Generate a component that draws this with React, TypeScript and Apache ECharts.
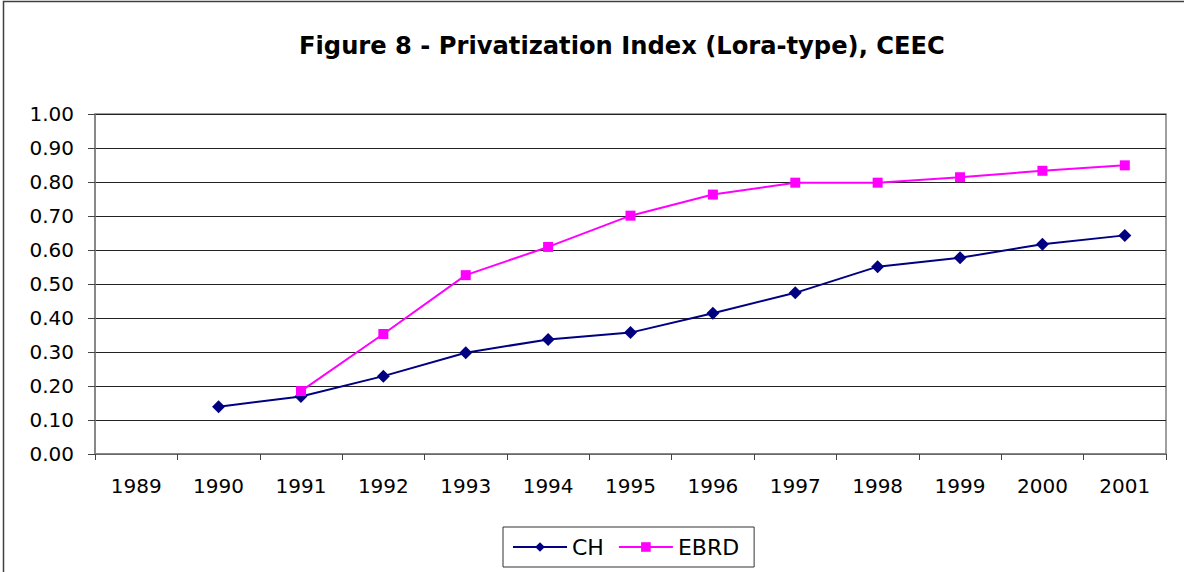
import React, { useEffect, useRef } from "react";
import * as echarts from "echarts";

const years = ["1989", "1990", "1991", "1992", "1993", "1994", "1995", "1996", "1997", "1998", "1999", "2000", "2001"];
const chValues = [null, 0.139, 0.169, 0.229, 0.298, 0.337, 0.357, 0.414, 0.474, 0.551, 0.577, 0.617, 0.643];
const ebrdValues = [null, null, 0.185, 0.353, 0.526, 0.609, 0.701, 0.763, 0.798, 0.798, 0.814, 0.833, 0.849];
const titleText = "Figure 8 - Privatization Index (Lora-type), CEEC";

const FONT = "'DejaVu Sans', sans-serif";

export default function App() {
  const ref = useRef<HTMLDivElement>(null);
  useEffect(() => {
    if (!ref.current) return;
    const chart = echarts.init(ref.current, null, { renderer: "svg" });
    chart.setOption({
      animation: false,
      backgroundColor: "#ffffff",
      title: {
        text: titleText,
        left: 294,
        top: 29,
        textStyle: { fontFamily: FONT, fontSize: 24.2, fontWeight: "bold", color: "#000" },
      },
      graphic: [
        {
          type: "rect",
          shape: { x: 3.5, y: 1.5, width: 1200, height: 600 },
          style: { fill: "none", stroke: "#404040", lineWidth: 1.5 },
          z: 100,
        },
      ],
      grid: {
        left: 95,
        right: 1184 - 1166,
        top: 114,
        bottom: 572 - 454,
        show: true,
        borderColor: "#808080",
        borderWidth: 1.5,
      },
      legend: {
        bottom: 5,
        left: 503,
        itemWidth: 54,
        itemHeight: 12,
        itemGap: 14,
        padding: [9, 15, 9, 9],
        borderColor: "#333",
        borderWidth: 1,
        textStyle: { fontFamily: FONT, fontSize: 22, color: "#000" },
        data: ["CH", "EBRD"],
      },
      xAxis: {
        type: "category",
        data: years,
        boundaryGap: true,
        axisLine: { lineStyle: { color: "#808080", width: 1.5 } },
        axisTick: { show: true, length: 6, lineStyle: { color: "#444" } },
        axisLabel: { fontFamily: FONT, fontSize: 20, color: "#000", margin: 22 },
        splitLine: { show: false },
      },
      yAxis: {
        type: "value",
        min: 0,
        max: 1,
        interval: 0.1,
        axisLine: { show: true, lineStyle: { color: "#808080", width: 1.5 } },
        axisTick: { show: true, length: 7, lineStyle: { color: "#444" } },
        axisLabel: {
          fontFamily: FONT,
          fontSize: 20,
          color: "#000",
          margin: 21,
          formatter: (v: number) => v.toFixed(2),
        },
        splitLine: { show: true, lineStyle: { color: "#222", width: 1 } },
      },
      series: [
        {
          name: "CH",
          type: "line",
          data: chValues,
          symbol: "diamond",
          symbolSize: 13,
          itemStyle: { color: "#000080" },
          lineStyle: { color: "#000080", width: 2 },
        },
        {
          name: "EBRD",
          type: "line",
          data: ebrdValues,
          symbol: "rect",
          symbolSize: 10,
          itemStyle: { color: "#FF00FF" },
          lineStyle: { color: "#FF00FF", width: 2 },
        },
      ],
    });
    return () => chart.dispose();
  }, []);
  return (
    <div
      ref={ref}
      style={{ position: "fixed", left: 0, top: 0, width: 1184, height: 572 }}
    />
  );
}
